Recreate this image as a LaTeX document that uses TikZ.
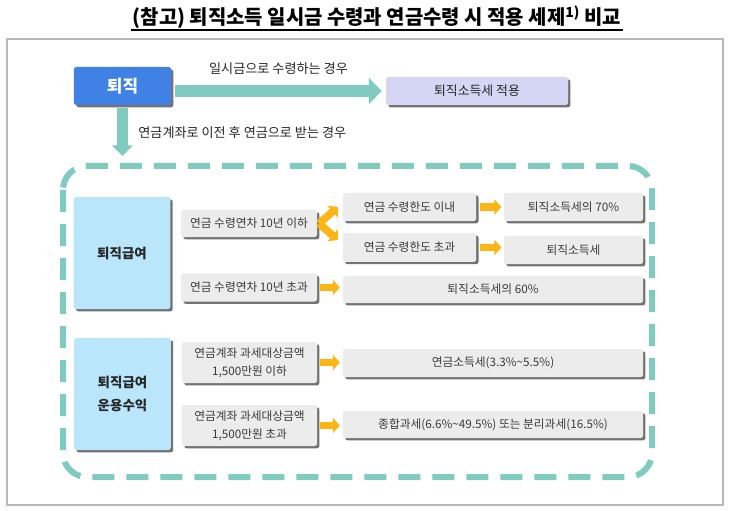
\documentclass[tikz,border=0pt]{standalone}
\usepackage{fontspec}
\setmainfont{Noto Sans CJK KR}
\usetikzlibrary{positioning,arrows.meta,shadows}
\definecolor{tealline}{HTML}{7FCBBF}
\definecolor{goldline}{HTML}{FDB515}
\definecolor{bluebox}{HTML}{3F81E4}
\definecolor{skybox}{HTML}{B9E6FA}
\definecolor{lavbox}{HTML}{D4D6F3}
\definecolor{greybox}{HTML}{ECECEC}
\definecolor{bodytext}{HTML}{3A3A3A}
\tikzset{
  boxshadow/.style={drop shadow={shadow xshift=2pt,shadow yshift=-2pt,fill=black!55,opacity=1}},
  condbox/.style={fill=greybox,rounded corners=2pt,text=bodytext,inner sep=0pt,align=center,
    font=\fontsize{10}{15.5}\selectfont,boxshadow},
  mainbox/.style={fill=skybox,rounded corners=2pt,text=black!85,inner sep=0pt,align=center,
    font=\bfseries\fontsize{11.5}{19}\selectfont,minimum width=2.9cm,minimum height=3.36cm,boxshadow},
  tealarrow/.style={draw=tealline,line width=9.4pt,-{Triangle[length=11pt,width=22pt]}},
  goldarrow/.style={draw=goldline,line width=6.5pt,-{Triangle[length=6pt,width=13pt]}},
  armlabel/.style={font=\fontsize{11.2}{13}\selectfont,text=black!85}
}
\begin{document}
\begin{tikzpicture}[x=0.03cm,y=-0.03cm]
  \useasboundingbox[fill=white] (0,0) rectangle (730,511);
  % title and frame
  \node[font=\bfseries\fontsize{17}{19}\selectfont,inner sep=1pt] (title) at (377,17)
    {(참고) 퇴직소득 일시금 수령과 연금수령 시 적용 세제\textsuperscript{1)} 비교};
  \draw[line width=1pt] (title.south west) -- (title.south east);
  \draw[black!28,line width=0.9pt] (7,39) rectangle (723,505);

  % top row
  \node[fill=bluebox,rounded corners=2pt,text=white,font=\bfseries\fontsize{14.5}{16}\selectfont,
    minimum width=2.91cm,minimum height=1.14cm,boxshadow] (tj) at (122.5,86) {퇴직};
  \node[fill=lavbox,rounded corners=2pt,text=black!85,font=\fontsize{11}{12}\selectfont,
    minimum width=5.46cm,minimum height=0.84cm,boxshadow] (lump) at (477,91) {퇴직소득세 적용};
  \draw[tealarrow] ([xshift=3.5pt]tj.east |- lump.west) -- ([xshift=-3.5pt]lump.west)
    node[midway,above=6pt,armlabel] {일시금으로 수령하는 경우};
  \coordinate (frametop) at (122.5,156);
  \draw[tealarrow,-{Triangle[length=9pt,width=17pt]}] ([yshift=-2.5pt]tj.south) -- (frametop)
    node[midway,right=5.5pt,armlabel] {연금계좌로 이전 후 연금으로 받는 경우};

  % pension frame
  \draw[tealline,line width=0.18cm,dash pattern=on 0.66cm off 0.36cm,rounded corners=0.72cm]
    (63,166) rectangle (652,477);

  % retirement benefit
  \node[mainbox] (jb) at (122,253) {퇴직급여};
  \node[condbox,minimum width=4.08cm,minimum height=0.81cm] (c1) at (249,223.5) {연금 수령연차 10년 이하};
  \node[condbox,minimum width=4.08cm,minimum height=0.84cm] (c2) at (249,287.5) {연금 수령연차 10년 초과};
  \node[condbox,minimum width=4.0cm,minimum height=0.84cm] (d1) at (409.5,207) {연금 수령한도 이내};
  \node[condbox,minimum width=4.0cm,minimum height=0.86cm] (d2) at (409.5,247.5) {연금 수령한도 초과};
  \node[condbox,minimum width=4.17cm,minimum height=0.84cm] (e1) at (573.5,207) {퇴직소득세의 70\%};
  \node[condbox,minimum width=4.17cm,minimum height=0.84cm] (e2) at (573.5,250) {퇴직소득세};
  \node[condbox,minimum width=9.0cm,minimum height=0.81cm] (e3) at (493,289.5) {퇴직소득세의 60\%};
  \draw[goldarrow] ([xshift=1.5pt]c1.east) -- ([xshift=-4pt]d1.west);
  \draw[goldarrow] ([xshift=1.5pt]c1.east) -- ([xshift=-4pt,yshift=6.4pt]d2.west);
  \draw[goldarrow] ([xshift=3pt]d1.east) -- ([xshift=-2pt]e1.west);
  \draw[goldarrow] ([xshift=3pt]d2.east) -- ([xshift=-2pt]d2.east -| e2.west);
  \draw[goldarrow] ([xshift=2.5pt]c2.east) -- ([xshift=-2.5pt]c2.east -| e3.west);

  % investment income
  \node[mainbox] (jr) at (122.5,394) {퇴직급여\\운용수익};
  \node[condbox,minimum width=4.05cm,minimum height=1.23cm] (f1) at (249.5,362.5) {연금계좌 과세대상금액\\1,500만원 이하};
  \node[condbox,minimum width=4.05cm,minimum height=1.23cm] (f2) at (249.5,425.5) {연금계좌 과세대상금액\\1,500만원 초과};
  \node[condbox,minimum width=9.0cm,minimum height=0.84cm] (g1) at (493,363) {연금소득세(3.3\%\textasciitilde 5.5\%)};
  \node[condbox,minimum width=9.0cm,minimum height=0.81cm] (g2) at (493,424.5) {종합과세(6.6\%\textasciitilde 49.5\%) 또는 분리과세(16.5\%)};
  \draw[goldarrow] ([xshift=2.5pt]f1.east) -- ([xshift=-2.5pt]f1.east -| g1.west);
  \draw[goldarrow] ([xshift=2.5pt]f2.east) -- ([xshift=-2.5pt]f2.east -| g2.west);
\end{tikzpicture}
\end{document}
